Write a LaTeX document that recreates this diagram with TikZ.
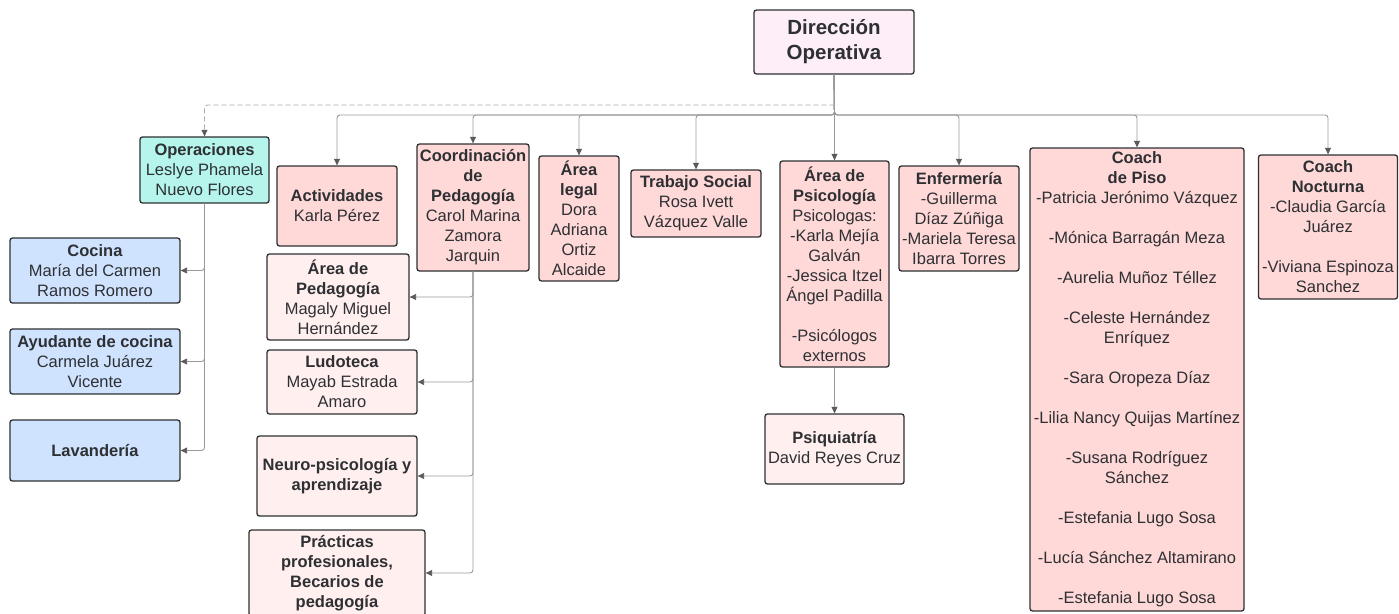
\documentclass[tikz,border=0pt]{standalone}
\usepackage{fontspec}
\setmainfont{Liberation Sans}
\usetikzlibrary{arrows.meta}
\definecolor{bordc}{HTML}{2E3033}
\definecolor{txtc}{HTML}{2E3033}
\definecolor{dirc}{HTML}{FDEEF8}
\definecolor{opsc}{HTML}{B5F5EC}
\definecolor{pinkc}{HTML}{FFD8D8}
\definecolor{lpinkc}{HTML}{FFEFEF}
\definecolor{bluec}{HTML}{CFE3FF}
\definecolor{linec}{HTML}{999999}
\definecolor{dlinec}{HTML}{AAAAAA}
\definecolor{tipc}{HTML}{5A5A5A}
\newcommand\fsnorm{\fontsize{16.5}{20}\selectfont}
\begin{document}
\begin{tikzpicture}[x=1pt,y=-1pt,
  box/.style={draw=bordc, line width=1.3pt, rounded corners=2.5pt, align=center,
    inner sep=1pt, font=\fsnorm, text=txtc},
  pinkbox/.style={box, fill=pinkc},
  lpinkbox/.style={box, fill=lpinkc},
  bluebox/.style={box, fill=bluec},
  conn/.style={draw=linec, line width=0.9pt, rounded corners=3pt,
    -{Triangle[width=6pt,length=6.5pt,color=tipc]}},
  dconn/.style={conn, draw=dlinec, dash pattern=on 5pt off 3pt}]
\useasboundingbox (0,0) rectangle (1399,613);

% top
\node[box, fill=dirc, minimum width=160, minimum height=64,
  font=\fontsize{20.5}{25}\selectfont\bfseries] (dir) at (834,42) {Dirección\\Operativa};

% first level
\node[box, fill=opsc, minimum width=129, minimum height=66] (ops) at (204.5,170)
  {\textbf{Operaciones}\\Leslye Phamela\\Nuevo Flores};
\node[pinkbox, minimum width=120, minimum height=80] (act) at (337,206)
  {\textbf{Actividades}\\Karla Pérez};
\node[pinkbox, minimum width=112, minimum height=127] (coord) at (473,207.5)
  {\textbf{Coordinación}\\\textbf{de}\\\textbf{Pedagogía}\\Carol Marina\\Zamora\\Jarquin};
\node[pinkbox, minimum width=80, minimum height=125] (legal) at (579,218.5)
  {\textbf{Área}\\\textbf{legal}\\Dora\\Adriana\\Ortiz\\Alcaide};
\node[pinkbox, minimum width=130, minimum height=67] (ts) at (696,203.5)
  {\textbf{Trabajo Social}\\Rosa Ivett\\Vázquez Valle};
\node[pinkbox, minimum width=109, minimum height=206] (psi) at (834.5,264)
  {\textbf{Área de}\\\textbf{Psicología}\\Psicologas:\\-Karla Mejía\\Galván\\-Jessica Itzel\\Ángel Padilla\\[20pt]-Psicólogos\\externos};
\node[pinkbox, minimum width=120, minimum height=105] (enf) at (959,218.5)
  {\textbf{Enfermería}\\-Guillerma\\Díaz Zúñiga\\-Mariela Teresa\\Ibarra Torres};
\node[pinkbox, minimum width=214, minimum height=463] (cpiso) at (1137,379.5)
  {\textbf{Coach}\\\textbf{de Piso}\\-Patricia Jerónimo Vázquez\\[20pt]-Mónica Barragán Meza\\[20pt]-Aurelia Muñoz Téllez\\[20pt]-Celeste Hernández\\Enríquez\\[20pt]-Sara Oropeza Díaz\\[20pt]-Lilia Nancy Quijas Martínez\\[20pt]-Susana Rodríguez\\Sánchez\\[20pt]-Estefania Lugo Sosa\\[20pt]-Lucía Sánchez Altamirano\\[20pt]-Estefania Lugo Sosa};
\node[pinkbox, minimum width=139, minimum height=144] (cnoc) at (1328,227)
  {\textbf{Coach}\\\textbf{Nocturna}\\-Claudia García\\Juárez\\[20pt]-Viviana Espinoza\\Sanchez};

% operaciones children
\node[bluebox, minimum width=170, minimum height=65] (coc) at (95,270.5)
  {\textbf{Cocina}\\María del Carmen\\Ramos Romero};
\node[bluebox, minimum width=170, minimum height=65] (ayu) at (95,361.5)
  {\textbf{Ayudante de cocina}\\Carmela Juárez\\Vicente};
\node[bluebox, minimum width=170, minimum height=61] (lav) at (95,450.5)
  {\textbf{Lavandería}};

% pedagogia children
\node[lpinkbox, minimum width=142, minimum height=86] (aped) at (338,297)
  {\textbf{Área de}\\\textbf{Pedagogía}\\Magaly Miguel\\Hernández};
\node[lpinkbox, minimum width=150, minimum height=64] (ludo) at (342,382)
  {\textbf{Ludoteca}\\Mayab Estrada\\Amaro};
\node[lpinkbox, minimum width=160, minimum height=80] (neuro) at (337,476)
  {\textbf{Neuro-psicología y}\\\textbf{aprendizaje}};
\node[lpinkbox, minimum width=176, minimum height=86] (prac) at (337,573)
  {\textbf{Prácticas}\\\textbf{profesionales,}\\\textbf{Becarios de}\\\textbf{pedagogía}};

% psiquiatria
\node[lpinkbox, minimum width=139, minimum height=70] (psq) at (834.5,449)
  {\textbf{Psiquiatría}\\David Reyes Cruz};

% connectors
\coordinate (bus) at (834.5,115);
\coordinate (dsh) at (834.5,105);
\foreach \t in {act,coord,legal,ts,psi,enf,cpiso,cnoc}
  \draw[conn] (dir.south) -- (bus) -| (\t.north);
\draw[dconn] (dsh) -| (ops.north);
\foreach \t in {coc,ayu,lav}
  \draw[conn] (ops.south) |- (\t.east);
\foreach \t in {aped,ludo,neuro,prac}
  \draw[conn] (coord.south) |- (\t.east);
\draw[conn] (psi.south) -- (psq.north);
\end{tikzpicture}
\end{document}
